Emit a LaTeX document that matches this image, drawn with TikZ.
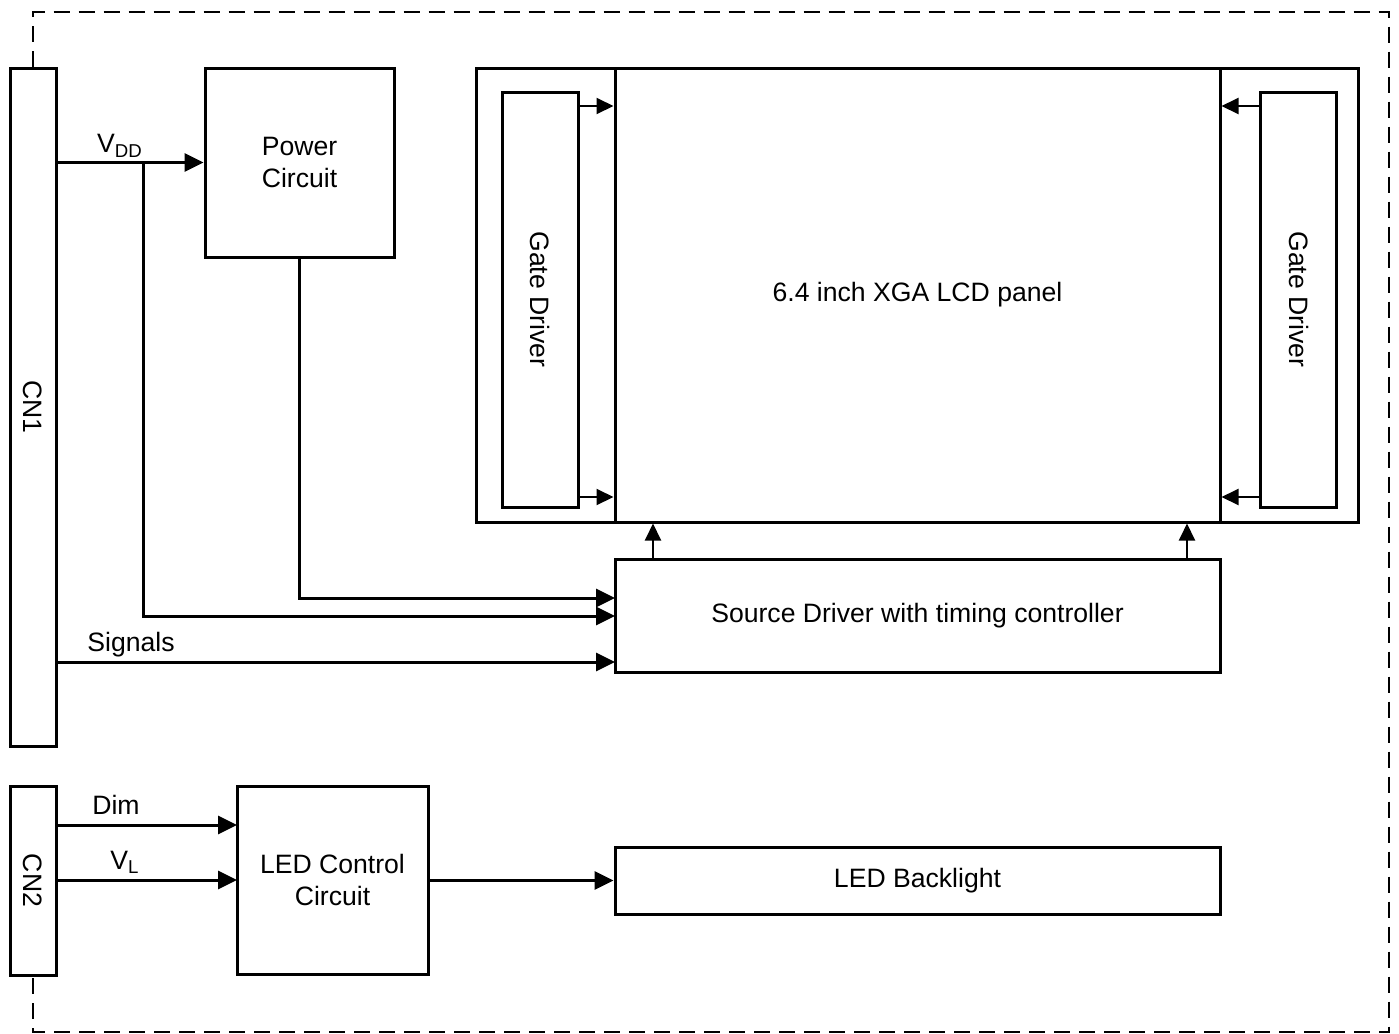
\documentclass[tikz,border=0pt]{standalone}
\usepackage{fontspec}
\setmainfont{Liberation Sans}
\usetikzlibrary{arrows.meta,calc}
\begin{document}
\begin{tikzpicture}[x=0.5pt,y=-0.5pt,
 box/.style={draw,line width=1.5pt,inner sep=0pt,align=center,font=\fontsize{13.3}{15.6}\selectfont},
 tarr/.style={line width=1.5pt,-{Triangle[length=9.5pt,width=9pt]}},
 wire/.style={line width=1.5pt},
 narr/.style={line width=1pt,-{Triangle[length=8.5pt,width=8pt]}},
 lbl/.style={font=\fontsize{13.3}{15.6}\selectfont,inner sep=0pt},
 border/.style={line width=1pt,dash pattern=on 8pt off 4.5pt}]
\useasboundingbox (0,0) rectangle (1399,1034);

% connectors boxes
\node[box,minimum width=23pt,minimum height=339pt] (cn1) at (33,407) {};
\node[lbl,rotate=-90] (cn1t) at (cn1.center) {CN1};
\node[box,minimum width=23pt,minimum height=94.5pt] (cn2) at (33,880.5) {};
\node[lbl,rotate=-90] (cn2t) at (cn2.center) {CN2};

% dashed enclosure
\coordinate (tl) at (33,12);
\coordinate (tr) at (1389,12);
\coordinate (br) at (1389,1032);
\coordinate (bl) at (33,1032);
\draw[border] (cn1.north) -- (tl) -- (tr) -- (br) -- (bl) -- (cn2.south);

% power circuit
\node[box,minimum width=94.5pt,minimum height=94.5pt] (power) at (299.5,162.5) {Power\\Circuit};

% LCD panel with gate drivers
\node[box,minimum width=441pt,minimum height=227pt] (outer) at (917,295) {};
\node[box,minimum width=302.5pt,minimum height=227pt] (panel) at (917.5,295) {6.4 inch XGA LCD panel};
\node[box,minimum width=38pt,minimum height=207.5pt] (gdl) at (540,299.5) {};
\node[lbl,rotate=-90] (gdlt) at (gdl.center) {Gate Driver};
\node[box,minimum width=38pt,minimum height=207.5pt] (gdr) at (1298.5,299.5) {};
\node[lbl,rotate=-90] (gdrt) at (gdr.center) {Gate Driver};

% source driver
\node[box,minimum width=302.5pt,minimum height=56.5pt] (src) at (917.5,615.5) {Source Driver with timing controller};

% LED
\node[box,minimum width=95.5pt,minimum height=94pt] (led) at (332.5,880) {LED Control\\Circuit};
\node[box,minimum width=302.5pt,minimum height=33.5pt] (bl) at (917.5,880.5) {LED Backlight};

% gate driver arrows
\coordinate (ga) at (578,106);
\coordinate (gb) at (578,497);
\coordinate (gc) at (1261,106);
\coordinate (gd) at (1261,497);
\draw[narr] (ga) -- (ga -| panel.west);
\draw[narr] (gb) -- (gb -| panel.west);
\draw[narr] (gc) -- (gc -| panel.east);
\draw[narr] (gd) -- (gd -| panel.east);

% source driver up arrows
\coordinate (ua) at (653,559);
\coordinate (ub) at (1187,559);
\draw[narr] (ua) -- (ua |- panel.south);
\draw[narr] (ub) -- (ub |- panel.south);

% VDD
\draw[tarr] (cn1.east |- power.west) -- (power.west);
\node[lbl] (vdd) at (120,146) {V\textsubscript{DD}};
\coordinate (vbr) at (143,162.5);
\coordinate (s2) at (615,616);
\draw[tarr] (vbr) |- (s2);
\coordinate (s1) at (615,598);
\draw[tarr] (power.south) |- (s1);

% Signals
\coordinate (s3) at (615,662);
\draw[tarr] (cn1.east |- s3) -- (s3);
\node[lbl] (sig) at (131,645) {Signals};

% CN2 to LED control
\coordinate (d1) at (237,825);
\coordinate (d2) at (237,880);
\draw[tarr] (cn2.east |- d1) -- (d1);
\draw[tarr] (cn2.east |- d2) -- (d2);
\node[lbl] (dim) at (116,805) {Dim};
\node[lbl] (vl) at (125,862) {V\textsubscript{L}};

% LED control to backlight
\draw[tarr] (led.east |- bl.west) -- (bl.west);
\end{tikzpicture}
\end{document}
